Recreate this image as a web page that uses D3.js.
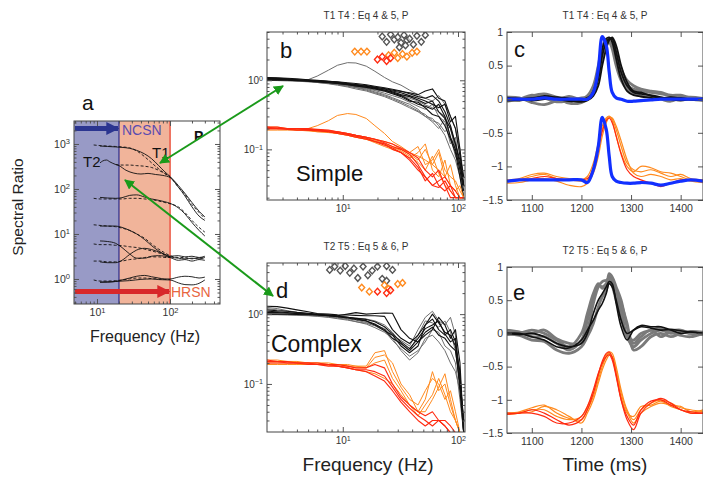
<!DOCTYPE html>
<html>
<head>
<meta charset="utf-8">
<script src="https://cdn.jsdelivr.net/npm/d3@7"></script>
<style>
  body { margin: 0; background: #fff; }
  svg { font-family: "Liberation Sans", Arial, Helvetica, sans-serif; }
</style>
</head>
<body>
<svg id="fig" width="703" height="478"></svg>
<script>
// ---------- panel a : spectral ratios ----------
const aSolid = [
  [[11,900],[14,880],[18,860],[22,840],[28,800],[35,720],[45,600],[56,470],[70,330],[85,240],[100,190],[130,120],[160,80],[200,50],[250,32],[300,24]],
  [[11,380],[12,420],[13.5,440],[15,400],[18,350],[20,330],[25,260],[32,225],[40,215],[50,222],[63,210],[80,200],[100,180],[130,110],[160,70],[200,40],[250,25],[300,20]],
  [[11,65],[14,63],[18,62],[22,64],[28,72],[35,74],[45,66],[56,60],[70,56],[85,52],[100,48],[130,38],[160,28],[200,18],[250,12],[300,9]],
  [[11,15],[14,15],[18,15],[22,14],[28,12],[35,10],[45,7.5],[56,5.5],[70,4.2],[85,3.5],[100,3.1],[130,2.9],[160,2.8],[200,2.9],[250,2.8],[300,3]],
  [[11,7],[14,6.8],[18,6.2],[22,5],[28,3.6],[35,2.9],[45,2.9],[56,3.2],[70,3.3],[85,3.2],[100,3.0],[130,2.6],[160,2.7],[200,2.5],[250,2.7],[300,2.6]],
  [[11,2.4],[14,2.3],[18,2.3],[22,2.6],[28,3.5],[35,4.4],[45,4.8],[56,4.5],[70,4.0],[85,3.5],[100,3.2],[130,3.3],[160,3.1],[200,3.2],[250,3.0],[300,3.2]],
  [[11,0.85],[14,0.85],[18,0.88],[22,0.95],[28,1.05],[35,1.15],[45,1.2],[56,1.12],[70,1.05],[85,1.0],[100,1.0],[130,1.1],[160,1.15],[200,1.12],[250,1.05],[300,1.1]],
  [[11,0.85],[18,0.88],[28,0.92],[40,0.98],[56,1.0],[70,0.97],[100,0.95],[130,0.82],[160,0.75],[200,0.74],[250,0.8],[300,0.95]]
];
const aDashed = [
  [[9,950],[11,920],[14,900],[18,880],[22,860],[28,820],[35,700],[45,520],[56,380],[70,280],[85,220],[100,185],[130,110],[160,75],[200,45],[250,30],[300,22]],
  [[18,350],[22,340],[28,340],[35,330],[45,320],[56,300],[70,260],[85,220],[100,190]],
  [[9,62],[11,60],[14,60],[18,60],[22,60],[28,62],[35,62],[45,60],[56,58],[70,54],[85,50],[100,47],[130,40],[160,30],[200,20],[250,14],[300,11]],
  [[9,16],[11,15.5],[14,15],[18,14.5],[22,13.5],[28,12],[35,10],[45,8],[56,6],[70,4.6],[85,3.8],[100,3.3],[130,3],[160,3],[200,2.8],[250,3],[300,2.9]],
  [[9,6],[11,5.8],[14,5.8],[18,5.6],[22,5.5],[28,5.2],[35,5],[45,4.6],[56,4.2],[70,3.8],[85,3.4],[100,3.1]],
  [[9,2.5],[11,2.5],[14,2.4],[18,2.4],[22,2.5],[28,2.7],[35,2.8],[45,3.0],[56,3.1],[70,3.1],[85,3.0],[100,3.0]],
  [[9,0.95],[11,0.9],[14,0.9],[18,0.92],[22,0.95],[28,1.0],[35,1.05],[45,1.05],[56,1.02],[70,1.0],[85,0.98],[100,0.97]]
];
const aBands = [{ name: "NCSN", from: 4.84, to: 20 }, { name: "HRSN", from: 20, to: 100 }];

// ---------- panels b, d : spectra ----------
const freqs = [2.2, 2.7, 3.3, 4, 5, 6, 7.5, 9, 11, 13, 16, 19, 23, 27, 32, 38, 45, 52, 60, 68, 77, 86, 95, 104, 112];

const simpleBlack = [
  [1.05,1.05,1.04,1.02,1.0,0.99,0.97,0.95,0.92,0.9,0.86,0.82,0.78,0.74,0.7,0.64,0.58,0.55,0.6,0.5,0.35,0.22,0.12,0.06,0.03],
  [1.1,1.09,1.07,1.05,1.02,1.0,0.97,0.94,0.9,0.86,0.82,0.77,0.72,0.66,0.6,0.52,0.45,0.42,0.38,0.45,0.3,0.15,0.1,0.05,0.025],
  [1.0,1.0,1.0,0.99,0.98,0.97,0.95,0.92,0.88,0.85,0.82,0.79,0.76,0.72,0.69,0.66,0.62,0.7,0.75,0.55,0.5,0.3,0.2,0.08,0.04],
  [1.08,1.06,1.04,1.01,0.99,0.96,0.93,0.9,0.87,0.83,0.79,0.75,0.7,0.64,0.58,0.5,0.48,0.4,0.32,0.3,0.22,0.14,0.09,0.04,0.02],
  [1.04,1.03,1.02,1.01,1.0,0.98,0.96,0.93,0.9,0.87,0.84,0.8,0.75,0.7,0.66,0.6,0.55,0.5,0.45,0.4,0.45,0.25,0.3,0.1,0.03],
  [1.06,1.05,1.03,1.0,0.97,0.95,0.92,0.9,0.86,0.83,0.8,0.76,0.72,0.68,0.62,0.58,0.52,0.46,0.5,0.35,0.28,0.2,0.12,0.07,0.03]
];
const simpleGray = [
  [1.05,1.03,1.01,0.99,0.96,0.93,0.89,0.85,0.8,0.75,0.7,0.64,0.58,0.52,0.46,0.4,0.35,0.3,0.28,0.22,0.16,0.1,0.07,0.04,0.02],
  [1.02,1.02,1.01,1.0,0.98,0.95,0.92,0.88,0.84,0.8,0.76,0.71,0.65,0.6,0.55,0.48,0.42,0.38,0.45,0.3,0.25,0.12,0.15,0.05,0.03],
  [1.1,1.08,1.05,1.02,0.99,0.96,0.92,0.88,0.83,0.79,0.74,0.68,0.62,0.56,0.5,0.45,0.38,0.3,0.25,0.2,0.28,0.15,0.08,0.06,0.03],
  [1.0,0.99,0.98,0.97,0.95,0.93,0.9,0.87,0.84,0.8,0.77,0.73,0.69,0.64,0.6,0.55,0.5,0.44,0.4,0.35,0.3,0.2,0.1,0.05,0.02],
  [1.03,1.02,1.0,0.98,0.97,0.95,0.91,0.87,0.82,0.78,0.72,0.66,0.6,0.54,0.48,0.42,0.36,0.32,0.26,0.24,0.18,0.22,0.1,0.06,0.03],
  [1.05,1.04,1.02,1.0,1.02,1.15,1.4,1.65,1.8,1.78,1.6,1.35,1.1,0.95,0.85,0.72,0.62,0.55,0.5,0.6,0.45,0.3,0.2,0.1,0.04]
];
const simpleOrange = [
  [0.2,0.2,0.2,0.2,0.19,0.19,0.185,0.18,0.17,0.16,0.15,0.14,0.13,0.12,0.1,0.085,0.07,0.1,0.06,0.09,0.04,0.06,0.03,0.02,0.02],
  [0.21,0.21,0.2,0.2,0.2,0.19,0.18,0.17,0.16,0.15,0.14,0.125,0.11,0.1,0.09,0.075,0.09,0.12,0.05,0.04,0.07,0.03,0.025,0.03,0.02],
  [0.2,0.2,0.2,0.19,0.19,0.18,0.18,0.17,0.165,0.155,0.145,0.135,0.12,0.11,0.095,0.08,0.065,0.05,0.08,0.045,0.03,0.025,0.02,0.02,0.02],
  [0.19,0.19,0.19,0.19,0.185,0.18,0.175,0.17,0.16,0.15,0.14,0.13,0.12,0.105,0.1,0.09,0.11,0.06,0.07,0.1,0.05,0.04,0.035,0.025,0.02],
  [0.2,0.2,0.2,0.19,0.2,0.22,0.26,0.31,0.33,0.32,0.28,0.22,0.17,0.13,0.11,0.09,0.08,0.07,0.06,0.05,0.04,0.03,0.025,0.02,0.02]
];
const simpleRed = [
  [0.21,0.21,0.2,0.2,0.2,0.195,0.19,0.18,0.17,0.16,0.15,0.14,0.125,0.11,0.1,0.085,0.06,0.04,0.03,0.035,0.04,0.03,0.025,0.02,0.02],
  [0.2,0.2,0.2,0.2,0.19,0.19,0.18,0.175,0.165,0.155,0.145,0.13,0.12,0.1,0.09,0.075,0.055,0.035,0.045,0.03,0.025,0.03,0.02,0.02,0.02],
  [0.2,0.2,0.195,0.19,0.19,0.185,0.18,0.17,0.16,0.15,0.14,0.13,0.115,0.105,0.09,0.07,0.05,0.04,0.03,0.028,0.035,0.025,0.02,0.02,0.02],
  [0.21,0.2,0.2,0.2,0.195,0.19,0.185,0.18,0.17,0.16,0.15,0.14,0.13,0.12,0.105,0.09,0.075,0.05,0.04,0.05,0.03,0.02,0.02,0.02,0.02]
];
const simpleCornersGray = [[22,4.3],[24,3.6],[26,4.6],[28,3.9],[30,4.2],[32,3.5],[34,4.5],[36,3.8],[38,4.0],[41,3.3],[44,4.4],[48,3.6],[52,4.5],[31,3.0],[35,3.2]];
const simpleCornersOrange = [[12.7,2.6],[14.4,2.6],[16.2,2.6],[25,2.3],[28,2.5],[30,2.1],[33,2.4],[36,2.2],[40,2.5],[44,2.6]];
const simpleCornersRed = [[20,2.0],[22,2.2],[24,1.9],[26,2.1]];

const complexBlack = [
  [1.3,1.28,1.22,1.15,1.08,1.02,1.0,0.98,0.97,0.96,0.95,0.95,0.93,0.6,0.45,0.38,0.5,0.7,0.85,0.6,0.5,0.6,0.4,0.08,0.02],
  [1.0,1.0,1.0,0.99,0.98,0.97,0.95,0.92,0.88,0.84,0.8,0.72,0.6,0.45,0.38,0.3,0.4,0.55,0.65,0.5,0.45,0.35,0.3,0.1,0.03],
  [1.15,1.12,1.1,1.06,1.03,1.0,0.97,0.94,0.9,0.86,0.8,0.7,0.58,0.5,0.35,0.28,0.35,0.7,1.0,0.75,0.55,0.5,0.35,0.15,0.02],
  [1.05,1.05,1.04,1.02,1.0,0.98,0.96,0.95,1.0,1.05,1.0,1.02,1.04,1.03,0.6,0.45,0.4,0.5,0.6,0.9,0.7,0.45,0.6,0.2,0.02],
  [1.1,1.08,1.05,1.02,1.0,0.98,0.95,0.93,0.9,0.87,0.84,0.78,0.66,0.52,0.4,0.32,0.45,0.62,0.7,0.8,0.52,0.4,0.45,0.12,0.03]
];
const complexGray = [
  [1.0,1.0,0.99,0.98,0.96,0.94,0.91,0.88,0.84,0.78,0.72,0.64,0.55,0.45,0.3,0.22,0.28,0.45,0.5,0.4,0.3,0.2,0.15,0.08,0.02],
  [1.2,1.15,1.1,1.05,1.0,0.97,0.93,0.9,0.86,0.82,0.76,0.7,0.62,0.5,0.42,0.35,0.6,0.9,1.1,0.8,0.7,0.9,0.5,0.12,0.03],
  [0.98,0.98,0.97,0.96,0.95,0.93,0.9,0.86,0.82,0.78,0.74,0.68,0.58,0.42,0.32,0.25,0.3,0.4,0.6,0.55,0.35,0.3,0.2,0.06,0.02],
  [1.25,1.2,1.12,1.06,1.02,0.99,0.96,0.93,0.9,0.88,0.85,0.8,0.7,0.55,0.38,0.3,0.5,0.8,0.75,0.65,0.8,0.55,0.3,0.1,0.02]
];
const complexOrange = [
  [0.22,0.22,0.21,0.21,0.2,0.2,0.2,0.19,0.19,0.18,0.18,0.28,0.3,0.15,0.09,0.06,0.05,0.08,0.12,0.1,0.06,0.08,0.04,0.02,0.02],
  [0.2,0.2,0.2,0.2,0.2,0.19,0.19,0.19,0.18,0.18,0.17,0.2,0.22,0.12,0.08,0.05,0.04,0.06,0.15,0.08,0.1,0.05,0.03,0.02,0.02],
  [0.21,0.21,0.21,0.2,0.2,0.2,0.19,0.18,0.17,0.16,0.15,0.14,0.12,0.1,0.07,0.05,0.035,0.05,0.07,0.12,0.07,0.04,0.03,0.02,0.02],
  [0.19,0.19,0.19,0.19,0.19,0.19,0.185,0.18,0.18,0.17,0.17,0.24,0.26,0.2,0.1,0.07,0.04,0.04,0.06,0.09,0.14,0.06,0.03,0.02,0.02]
];
const complexRed = [
  [0.21,0.21,0.2,0.2,0.2,0.19,0.19,0.18,0.17,0.16,0.15,0.13,0.11,0.08,0.055,0.04,0.03,0.025,0.03,0.03,0.025,0.02,0.02,0.02,0.02],
  [0.2,0.2,0.2,0.2,0.19,0.19,0.18,0.18,0.17,0.16,0.16,0.15,0.13,0.09,0.06,0.045,0.035,0.03,0.025,0.03,0.03,0.025,0.02,0.02,0.02],
  [0.22,0.21,0.21,0.2,0.2,0.2,0.19,0.19,0.18,0.17,0.17,0.19,0.17,0.1,0.065,0.05,0.04,0.035,0.04,0.03,0.025,0.02,0.02,0.02,0.02]
];
const complexCornersGray = [[7.7,4.3],[8.5,4.8],[9.5,4.2],[10.5,4.9],[11.5,3.9],[12.5,4.5],[13.5,3.3],[15,4.8],[16.5,3.6],[18,4.2],[20,4.8],[22,3.2],[24,4.9],[27,4.3],[24,3.0]];
const complexCornersOrange = [[14.6,2.4],[17,2.1],[23,2.6],[25,2.3],[30,2.7],[33,2.8]];
const complexCornersRed = [[20,2.1],[24,2.0],[26,2.2]];

// ---------- panels c, e : waveforms ----------
const times = [1050,1075,1100,1125,1150,1175,1200,1212,1224,1234,1242,1250,1256,1262,1270,1280,1292,1305,1320,1340,1360,1380,1400,1420,1445];

const simpleWaveBlack = [
  [0.0,0.0,0.02,0.03,0.0,-0.03,-0.02,0.0,0.12,0.4,0.75,0.9,0.92,0.85,0.6,0.3,0.12,0.06,0.04,0.02,0.0,0.01,0.02,0.0,0.0],
  [0.02,0.01,-0.02,0.0,0.03,0.01,-0.01,0.02,0.08,0.3,0.65,0.85,0.9,0.9,0.7,0.4,0.2,0.1,0.08,0.06,0.03,0.0,-0.02,0.0,0.01],
  [-0.02,-0.01,0.0,0.05,0.02,-0.02,-0.04,-0.02,0.05,0.2,0.5,0.75,0.88,0.92,0.8,0.5,0.25,0.12,0.1,0.05,0.02,0.03,0.01,-0.01,0.0]
];
const simpleWaveGray = [
  [0.0,-0.02,0.05,0.08,0.03,-0.06,-0.05,0.0,0.15,0.45,0.7,0.82,0.85,0.8,0.55,0.35,0.2,0.15,0.12,0.1,0.08,0.05,0.04,0.0,-0.02],
  [0.03,0.02,-0.05,-0.08,-0.02,0.04,0.0,0.05,0.2,0.5,0.78,0.88,0.86,0.75,0.5,0.28,0.15,0.08,0.05,0.03,0.0,-0.03,0.02,0.03,0.01],
  [-0.03,0.0,0.06,0.02,-0.04,-0.02,0.02,0.03,0.1,0.35,0.6,0.78,0.9,0.88,0.7,0.45,0.28,0.2,0.15,0.12,0.1,0.06,0.06,0.02,0.0]
];
const simpleWaveOrange = [
  [-1.22,-1.2,-1.15,-1.12,-1.18,-1.2,-1.22,-1.2,-1.0,-0.7,-0.45,-0.3,-0.26,-0.3,-0.45,-0.7,-0.95,-1.05,-1.08,-1.05,-1.1,-1.15,-1.12,-1.18,-1.2],
  [-1.25,-1.24,-1.2,-1.18,-1.22,-1.28,-1.3,-1.25,-1.1,-0.85,-0.55,-0.35,-0.27,-0.28,-0.4,-0.62,-0.9,-1.1,-1.15,-1.12,-1.15,-1.2,-1.18,-1.22,-1.24],
  [-1.2,-1.18,-1.12,-1.1,-1.15,-1.18,-1.2,-1.15,-0.95,-0.65,-0.4,-0.28,-0.25,-0.32,-0.55,-0.8,-1.0,-1.08,-1.0,-1.02,-1.08,-1.1,-1.15,-1.2,-1.2]
];
const simpleWaveRed = [
  [-1.22,-1.2,-1.18,-1.15,-1.18,-1.2,-1.2,-1.18,-1.05,-0.75,-0.48,-0.32,-0.28,-0.35,-0.55,-0.82,-1.05,-1.15,-1.2,-1.25,-1.3,-1.25,-1.2,-1.2,-1.22]
];
const simpleWaveBlue = [
  [0.0,0.0,0.0,0.02,0.0,0.0,0.0,0.0,0.1,0.45,0.93,0.8,0.4,0.1,0.02,0.0,-0.03,-0.03,-0.02,-0.01,0.0,0.0,0.0,0.0,0.0],
  [-1.22,-1.2,-1.2,-1.2,-1.2,-1.2,-1.2,-1.24,-1.05,-0.7,-0.27,-0.45,-0.85,-1.15,-1.22,-1.24,-1.25,-1.25,-1.24,-1.25,-1.28,-1.25,-1.22,-1.2,-1.22]
];

const complexWaveBlack = [
  [0.0,0.0,-0.05,-0.1,-0.2,-0.22,-0.1,0.05,0.2,0.35,0.45,0.6,0.75,0.7,0.5,0.2,0.0,0.05,0.1,0.08,0.05,0.06,0.04,0.02,0.0],
  [0.0,-0.02,0.0,-0.05,-0.15,-0.2,-0.15,0.0,0.3,0.5,0.6,0.7,0.78,0.75,0.45,0.1,-0.1,0.05,0.12,0.1,0.1,0.05,0.0,0.02,0.0]
];
const complexWaveGray = [
  [0.05,0.02,-0.05,-0.05,-0.15,-0.25,-0.1,0.2,0.55,0.72,0.7,0.75,0.85,0.8,0.6,0.35,-0.05,-0.2,-0.1,0.0,0.05,0.0,0.02,0.0,-0.02],
  [-0.02,0.0,0.05,0.0,-0.1,-0.2,0.0,0.3,0.6,0.75,0.68,0.72,0.9,0.85,0.7,0.5,0.1,-0.15,-0.05,0.05,-0.05,0.03,0.05,0.0,0.0],
  [0.0,-0.03,-0.1,-0.12,-0.25,-0.3,-0.2,-0.05,0.15,0.4,0.55,0.65,0.8,0.82,0.65,0.45,0.15,-0.25,-0.2,-0.05,0.0,-0.05,0.0,0.03,0.02],
  [0.03,0.02,0.0,0.05,-0.08,-0.15,-0.15,0.05,0.45,0.7,0.78,0.8,0.82,0.72,0.5,0.25,-0.05,-0.1,0.0,0.05,0.08,0.02,-0.03,-0.05,0.0]
];
const complexWaveOrange = [
  [-1.2,-1.18,-1.12,-1.08,-1.2,-1.28,-1.3,-1.15,-0.95,-0.7,-0.5,-0.35,-0.28,-0.3,-0.5,-0.85,-1.15,-1.3,-1.15,-1.05,-1.0,-1.05,-1.12,-1.15,-1.18],
  [-1.22,-1.2,-1.15,-1.15,-1.25,-1.3,-1.25,-1.1,-0.9,-0.65,-0.45,-0.32,-0.3,-0.35,-0.6,-0.95,-1.2,-1.25,-1.1,-1.08,-1.02,-1.1,-1.15,-1.2,-1.2],
  [-1.2,-1.2,-1.18,-1.1,-1.15,-1.25,-1.35,-1.2,-1.0,-0.75,-0.55,-0.4,-0.33,-0.35,-0.55,-0.9,-1.18,-1.35,-1.2,-1.1,-1.05,-1.08,-1.1,-1.18,-1.15]
];
const complexWaveRed = [
  [-1.2,-1.2,-1.15,-1.2,-1.3,-1.38,-1.3,-1.15,-0.9,-0.62,-0.42,-0.3,-0.28,-0.36,-0.62,-1.0,-1.3,-1.45,-1.2,-1.05,-0.98,-1.05,-1.15,-1.2,-1.2],
  [-1.22,-1.2,-1.2,-1.25,-1.35,-1.35,-1.25,-1.1,-0.85,-0.6,-0.45,-0.35,-0.32,-0.4,-0.65,-1.0,-1.25,-1.38,-1.15,-1.02,-1.0,-1.08,-1.15,-1.18,-1.2]
];

const titles = ["T1 T4 : Eq 4 & 5, P", "T2 T5 : Eq 5 & 6, P"];
const timeTicks = [1100, 1200, 1300, 1400];
const ampTicks = [-1.5, -1, -0.5, 0, 0.5, 1];

// ---------- drawing ----------
const svg = d3.select("#fig");
const INK = "#333";
const C = { black: "#111", gray: "#6e6e6e", orange: "#ff8a1e", red: "#ff2a10", blue: "#1230ff", green: "#1a9a1a" };

const defs = svg.append("defs");
["green", "navy", "crimson"].forEach(k => {
  const col = { green: C.green, navy: "#2b3590", crimson: "#d8282a" }[k];
  defs.append("marker").attr("id", "head-" + k)
    .attr("viewBox", "0 0 10 10").attr("refX", 9).attr("refY", 5)
    .attr("markerWidth", k === "green" ? 5 : 2.6).attr("markerHeight", k === "green" ? 5 : 2.6)
    .attr("markerUnits", "strokeWidth").attr("orient", "auto-start-reverse")
    .append("path").attr("d", "M0,0 L10,5 L0,10 z").attr("fill", col);
});

function clip(id, x, y) {
  const [xa, xb] = x.range(), [yb, ya] = y.range();
  defs.append("clipPath").attr("id", id).append("rect")
    .attr("x", xa).attr("y", ya).attr("width", xb - xa).attr("height", yb - ya);
  return svg.append("g").attr("clip-path", `url(#${id})`);
}

function logMinor(s) {
  return s.ticks().filter(t => Math.abs(Math.log10(t) - Math.round(Math.log10(t))) > 1e-6);
}

// MATLAB-like frame: ticks inside on all four sides, labels on bottom/left
function frame(x, y, o) {
  const [xa, xb] = x.range(), [yb, ya] = y.range();
  const g = svg.append("g");
  const sides = [
    { ax: d3.axisBottom, s: x, tr: `translate(0,${yb})`, lab: true },
    { ax: d3.axisTop, s: x, tr: `translate(0,${ya})` },
    { ax: d3.axisLeft, s: y, tr: `translate(${xa},0)`, lab: true },
    { ax: d3.axisRight, s: y, tr: `translate(${xb},0)` }
  ];
  sides.forEach(p => {
    const isX = p.s === x;
    const minor = isX ? o.xMinor : o.yMinor;
    const major = isX ? o.xMajor : o.yMajor;
    const sup = isX ? o.xSup : o.ySup;
    if (minor.length) {
      g.append("g").attr("transform", p.tr)
        .call(p.ax(p.s).tickValues(minor).tickSize(-2.5).tickFormat(""))
        .call(a => a.select(".domain").remove())
        .selectAll("line").attr("stroke", "#555");
    }
    const m = g.append("g").attr("transform", p.tr)
      .call(p.ax(p.s).tickValues(major).tickSize(-5).tickPadding(isX ? 5 : 4)
        .tickFormat(p.lab ? (sup ? () => "" : d => String(d).replace("-", "\u2212")) : ""))
      .call(a => a.select(".domain").remove());
    m.selectAll("line").attr("stroke", "#555");
    m.selectAll("text").attr("fill", INK).attr("font-size", o.fs)
      .attr("font-family", '"Liberation Sans", Arial, sans-serif');
    if (p.lab && sup) {
      m.selectAll("text").each(function (d) {
        const e = Math.round(Math.log10(d));
        const t = d3.select(this);
        t.append("tspan").text("10");
        t.append("tspan").attr("dy", "-0.45em").attr("font-size", o.fs * 0.72)
          .text(e < 0 ? "\u2212" + (-e) : e);
      });
    }
  });
  g.append("rect").attr("x", xa).attr("y", ya).attr("width", xb - xa).attr("height", yb - ya)
    .attr("fill", "none").attr("stroke", "#444").attr("stroke-width", 1);
  return g;
}

function label(x, y, txt, size, extra) {
  const t = svg.append("text").attr("x", x).attr("y", y).attr("font-size", size).attr("fill", "#111").text(txt);
  if (extra) extra(t);
  return t;
}

// ----- panel a -----
{
  const x = d3.scaleLog().domain([4.84, 484]).range([74, 220]);
  const y = d3.scaleLog().domain([0.278, 3240]).range([304, 121]);
  const g = clip("clipA", x, y);
  g.append("rect").attr("x", x(aBands[0].from)).attr("y", 121).attr("width", x(aBands[0].to) - x(aBands[0].from)).attr("height", 183).attr("fill", "#989ac6");
  g.append("rect").attr("x", x(aBands[1].from)).attr("y", 121).attr("width", x(aBands[1].to) - x(aBands[1].from)).attr("height", 183).attr("fill", "#f1b49a");
  g.append("line").attr("x1", x(20)).attr("x2", x(20)).attr("y1", 121).attr("y2", 304).attr("stroke", "#2b2b8c").attr("stroke-width", 1.2);
  g.append("line").attr("x1", x(100)).attr("x2", x(100)).attr("y1", 121).attr("y2", 304).attr("stroke", "#ee7462").attr("stroke-width", 2);
  const line = d3.line().x(d => x(d[0])).y(d => y(d[1])).curve(d3.curveMonotoneX);
  g.selectAll(".as").data(aSolid).join("path").attr("d", line)
    .attr("fill", "none").attr("stroke", "#111").attr("stroke-width", 0.9);
  g.selectAll(".ad").data(aDashed).join("path").attr("d", line)
    .attr("fill", "none").attr("stroke", "#111").attr("stroke-width", 0.9).attr("stroke-dasharray", "3,2");
  // network arrows
  g.append("line").attr("x1", 75).attr("x2", x(20) - 1).attr("y1", 128.5).attr("y2", 128.5)
    .attr("stroke", "#2b3590").attr("stroke-width", 5).attr("marker-end", "url(#head-navy)");
  g.append("line").attr("x1", 75).attr("x2", x(100) - 1).attr("y1", 291.5).attr("y2", 291.5)
    .attr("stroke", "#d8282a").attr("stroke-width", 5).attr("marker-end", "url(#head-crimson)");
  frame(x, y, { xMajor: [10, 100], xMinor: logMinor(x), yMajor: [1, 10, 100, 1000], yMinor: logMinor(y), xSup: true, ySup: true, fs: 10.5 });
  label(122, 135, "NCSN", 14, t => t.attr("fill", "#5a4cb0"));
  label(171, 297, "HRSN", 14, t => t.attr("fill", "#e8663f"));
  label(152, 158, "T1", 15);
  label(83, 167, "T2", 15);
  label(194, 141, "P", 14, t => t.attr("font-weight", "bold"));
  label(82, 110, "a", 21);
  label(145, 342, "Frequency (Hz)", 16, t => t.attr("text-anchor", "middle").attr("fill", "#222"));
  label(0, 0, "Spectral Ratio", 15.5, t => t.attr("text-anchor", "middle").attr("fill", "#222")
    .attr("transform", "translate(23,207) rotate(-90)"));
}

// ----- spectra panels b, d -----
const diamond = "M0,-3.4L3,0L0,3.4L-3,0Z";
function spectra(top, bottom, yDom, sets, corners, o) {
  const x = d3.scaleLog().domain([2.2, 115]).range([267, 465]);
  const y = d3.scaleLog().domain(yDom).range([bottom, top]);
  const g = clip(o.id, x, y);
  const line = d3.line().x((d, i) => x(freqs[i])).y(d => y(d));
  sets.forEach(s => {
    g.append("g").selectAll("path").data(s.data).join("path").attr("d", line)
      .attr("fill", "none").attr("stroke", s.color).attr("stroke-width", s.w)
      .attr("stroke-linejoin", "round");
  });
  corners.forEach(c => {
    g.append("g").selectAll("path").data(c.data).join("path").attr("d", diamond)
      .attr("transform", d => `translate(${x(d[0])},${y(d[1])})`)
      .attr("fill", "#fff").attr("fill-opacity", 0.6).attr("stroke", c.color).attr("stroke-width", 1.4);
  });
  frame(x, y, { xMajor: [10, 100], xMinor: logMinor(x), yMajor: [0.1, 1], yMinor: logMinor(y), xSup: true, ySup: true, fs: 10 });
  label(366, top - 13, o.title, 10, t => t.attr("text-anchor", "middle").attr("fill", INK));
}

spectra(32, 200, [0.0185, 5.0], [
  { data: simpleGray, color: C.gray, w: 1 },
  { data: simpleBlack, color: C.black, w: 1.1 },
  { data: simpleOrange, color: C.orange, w: 1 },
  { data: simpleRed, color: C.red, w: 1.1 }
], [
  { data: simpleCornersGray, color: "#555" },
  { data: simpleCornersOrange, color: C.orange },
  { data: simpleCornersRed, color: C.red }
], { id: "clipB", title: titles[0] });
label(280, 58, "b", 22);
label(296, 181, "Simple", 22);

spectra(263, 432, [0.0205, 5.4], [
  { data: complexGray, color: C.gray, w: 1 },
  { data: complexBlack, color: C.black, w: 1.1 },
  { data: complexOrange, color: C.orange, w: 1 },
  { data: complexRed, color: C.red, w: 1.1 }
], [
  { data: complexCornersGray, color: "#555" },
  { data: complexCornersOrange, color: C.orange },
  { data: complexCornersRed, color: C.red }
], { id: "clipD", title: titles[1] });
label(276, 298, "d", 22);
label(271, 352, "Complex", 23);
label(368, 471, "Frequency (Hz)", 19, t => t.attr("text-anchor", "middle").attr("fill", "#222"));

// ----- waveform panels c, e -----
function waves(top, bottom, sets, o) {
  const x = d3.scaleLinear().domain([1050, 1445]).range([507, 703]);
  const y = d3.scaleLinear().domain([-1.5, 1]).range([bottom, top]);
  const g = clip(o.id, x, y);
  const line = d3.line().x((d, i) => x(times[i])).y(d => y(d)).curve(d3.curveCatmullRom);
  sets.forEach(s => {
    g.append("g").selectAll("path").data(s.data).join("path").attr("d", line)
      .attr("fill", "none").attr("stroke", s.color).attr("stroke-width", s.w)
      .attr("stroke-linejoin", "round");
  });
  frame(x, y, { xMajor: timeTicks, xMinor: [], yMajor: ampTicks, yMinor: [], fs: 10.5 });
  label(605, top - 13, o.title, 10, t => t.attr("text-anchor", "middle").attr("fill", INK));
}

waves(32, 200, [
  { data: simpleWaveGray, color: "#7a7a7a", w: 2.8 },
  { data: simpleWaveBlack, color: C.black, w: 1.8 },
  { data: simpleWaveOrange, color: C.orange, w: 1.2 },
  { data: simpleWaveRed, color: C.red, w: 1.2 },
  { data: simpleWaveBlue, color: C.blue, w: 3.2 }
], { id: "clipC", title: titles[0] });
label(514, 57, "c", 22);

waves(267, 433, [
  { data: complexWaveGray, color: "#7a7a7a", w: 2.8 },
  { data: complexWaveBlack, color: C.black, w: 1.6 },
  { data: complexWaveOrange, color: C.orange, w: 1.2 },
  { data: complexWaveRed, color: C.red, w: 1.2 }
], { id: "clipE", title: titles[1] });
label(513, 300, "e", 22);
label(605, 471, "Time (ms)", 19, t => t.attr("text-anchor", "middle").attr("fill", "#222"));

// ----- green link arrows -----
[[160, 163, 283, 86], [125, 180, 273, 296]].forEach(a => {
  svg.append("line").attr("x1", a[0]).attr("y1", a[1]).attr("x2", a[2]).attr("y2", a[3])
    .attr("stroke", C.green).attr("stroke-width", 2)
    .attr("marker-start", "url(#head-green)").attr("marker-end", "url(#head-green)");
});
</script>
</body>
</html>
